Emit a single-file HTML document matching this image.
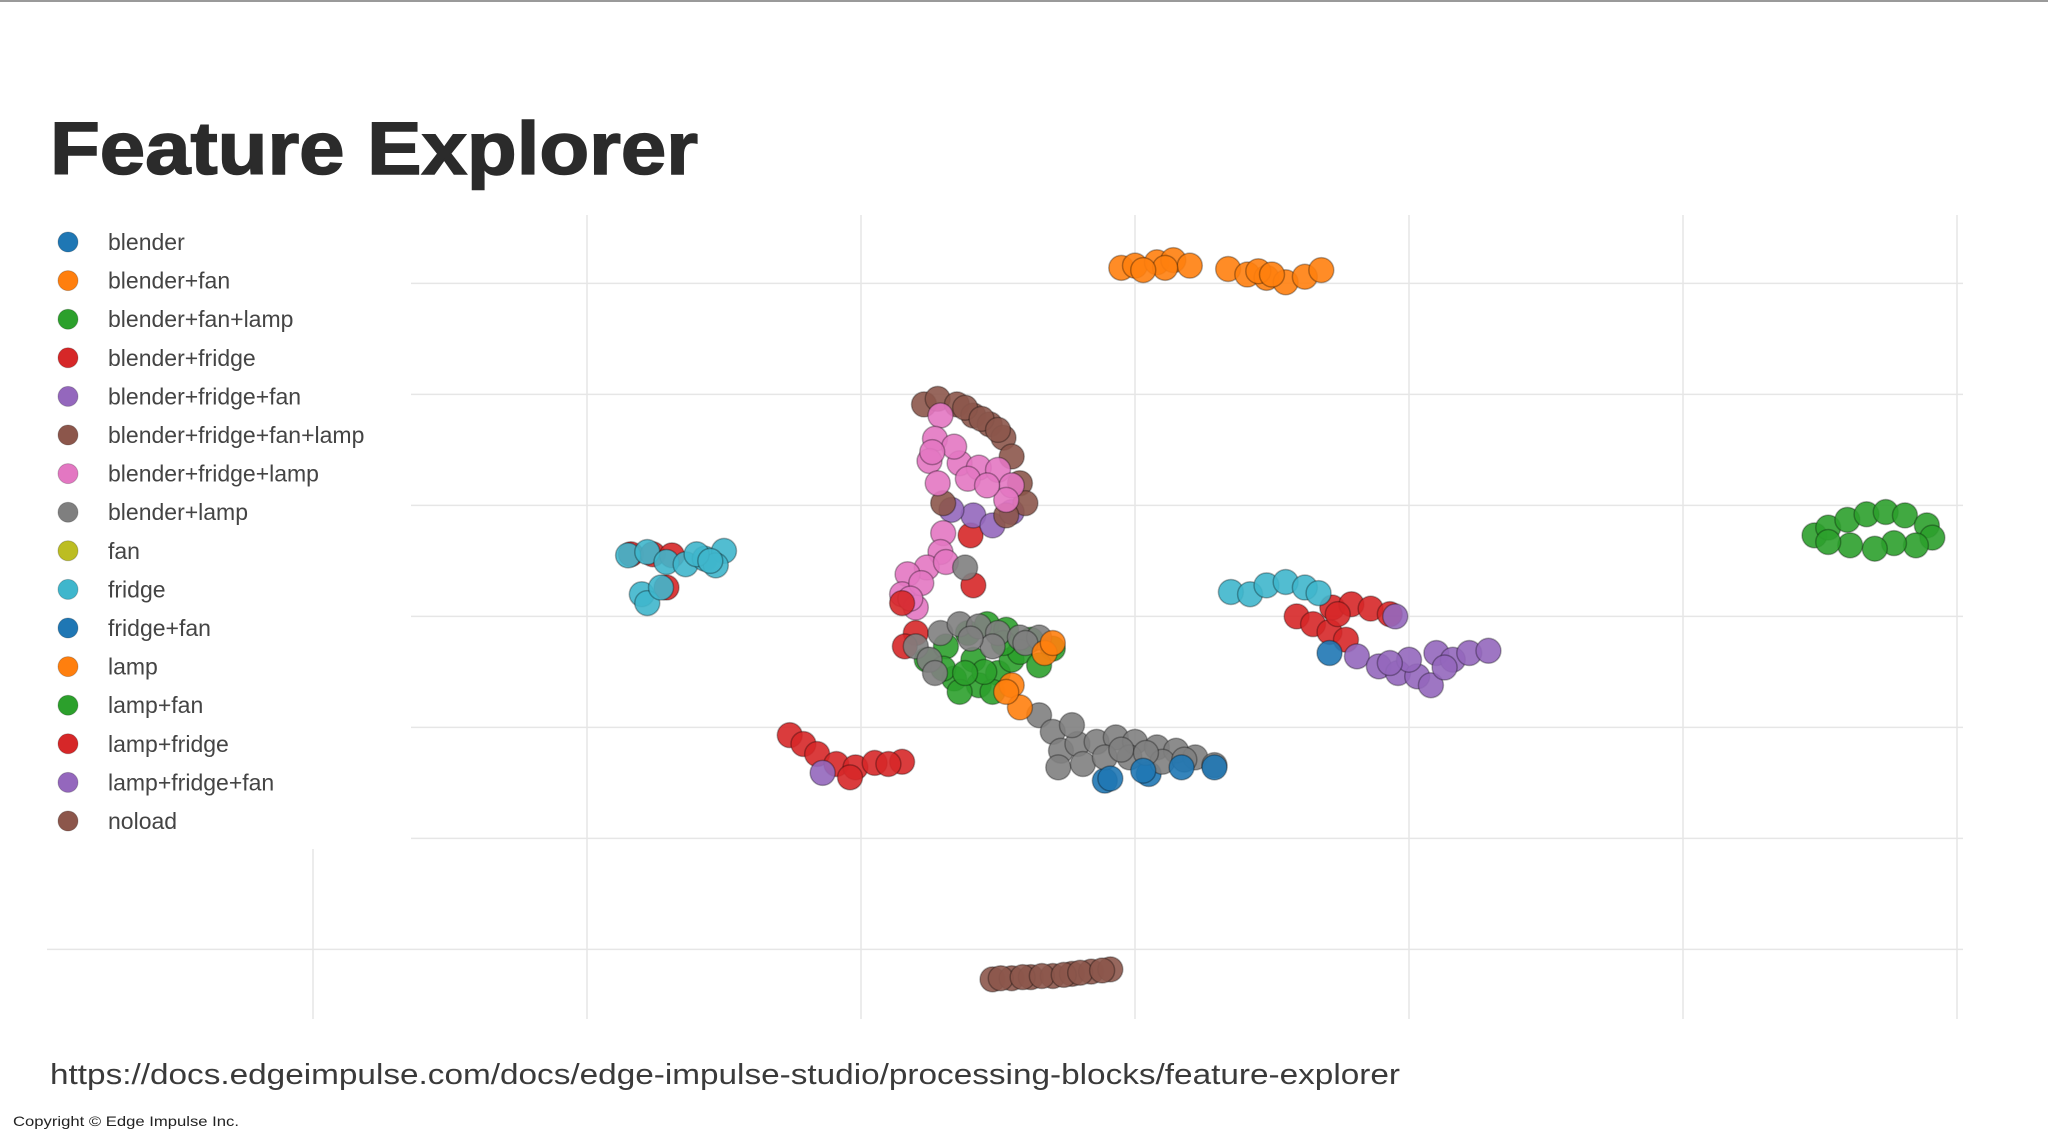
<!DOCTYPE html>
<html>
<head>
<meta charset="utf-8">
<style>
html,body{margin:0;padding:0;background:#fff;}
svg{display:block;}
text{font-family:"Liberation Sans",sans-serif;}
</style>
</head>
<body>
<svg id="chart" width="2048" height="1145" viewBox="0 0 2048 1145" xmlns="http://www.w3.org/2000/svg">
  <rect x="0" y="0" width="2048" height="1145" fill="#ffffff"/>
  <rect x="0" y="0" width="2048" height="2" fill="#9a9a9a"/>
  <text x="50" y="174" font-size="74" font-weight="bold" fill="#2b2b2b" textLength="648" lengthAdjust="spacingAndGlyphs" stroke="#2b2b2b" stroke-width="1.5">Feature Explorer</text>
  <g id="grid"></g>
  <rect x="40" y="210" width="371" height="639" fill="#ffffff"/>
  <g id="points"></g>
  <g id="legend"></g>
  <text x="50" y="1084" font-size="29" fill="#3a3a3a" textLength="1350" lengthAdjust="spacingAndGlyphs">https://docs.edgeimpulse.com/docs/edge-impulse-studio/processing-blocks/feature-explorer</text>
  <text x="13" y="1126" font-size="14" fill="#222" textLength="226" lengthAdjust="spacingAndGlyphs">Copyright © Edge Impulse Inc.</text>
</svg>
<script>
const seriesNames = ["blender","blender+fan","blender+fan+lamp","blender+fridge","blender+fridge+fan","blender+fridge+fan+lamp","blender+fridge+lamp","blender+lamp","fan","fridge","fridge+fan","lamp","lamp+fan","lamp+fridge","lamp+fridge+fan","noload"];
const seriesColors = ["#1f77b4","#ff7f0e","#2ca02c","#d62728","#9467bd","#8c564b","#e377c2","#7f7f7f","#bcbd22","#3fb6cc","#1f77b4","#ff7f0e","#2ca02c","#d62728","#9467bd","#8c564b"];
const xTicks = [-20,-10,0,10,20,30,40];
const yTicks = [-20,-10,0,10,20,30,40];

const blenderX = [8.9,10.5];
const blenderY = [-4.8,-4.2];
const blenderFanX = [9.5,10.0,10.8,11.4,12.0,11.1,13.4,14.1,14.8,15.5,16.2,16.8,14.5,10.3,15.0];
const blenderFanY = [41.4,41.6,41.9,42.1,41.6,41.4,41.3,40.8,40.5,40.1,40.6,41.2,41.1,41.2,40.8];
const blenderFanLampX = [2.4,3.1,3.9,4.6,5.3,6.2,7.0,3.4,4.3,5.0,4.1,3.6,5.5,4.8,3.0,4.5,5.8,6.5,3.8,5.2];
const blenderFanLampY = [6.1,7.3,8.5,9.3,8.8,7.9,7.1,4.4,3.8,4.9,6.1,3.2,6.1,3.2,5.3,5.0,6.8,5.6,4.9,7.6];
const blenderFridgeX = [-8.4,-7.6,-6.9,-7.1,15.9,16.5,17.1,17.7,17.2,17.9,18.6,17.4,4.1,4.0,2.0,1.6];
const blenderFridgeY = [15.6,15.6,15.5,12.6,10.0,9.3,8.6,7.9,10.8,11.1,10.7,10.2,12.8,17.3,8.5,7.3];
const blenderFridgeFanX = [18.1,18.9,19.6,20.3,20.8,21.0,21.6,22.2,22.9,20.0,4.1,4.8,5.5,3.3,19.3,21.3];
const blenderFridgeFanY = [6.4,5.5,4.9,4.6,3.8,6.7,6.1,6.7,6.9,6.1,19.1,18.2,19.4,19.6,5.8,5.4];
const bffLampX = [2.3,2.8,3.5,4.1,4.7,5.2,5.5,5.8,6.0,5.3,3.0,3.8,4.4,5.0];
const bffLampY = [29.1,29.6,29.1,28.1,27.3,26.1,24.4,22.0,20.2,19.1,20.2,28.8,27.8,26.8];
const blenderFridgeLampX = [2.9,2.7,2.5,2.8,3.6,4.3,5.0,5.5,5.3,3.0,2.9,2.4,1.7,1.5,2.0,3.1,3.4,2.6,3.9,4.6,2.2,1.8];
const blenderFridgeLampY = [28.1,26.0,24.0,22.0,23.8,23.4,23.2,21.8,20.5,17.5,15.8,14.4,13.8,12.0,10.8,14.9,25.3,24.8,22.4,21.8,13.0,11.6];
const blenderLampX = [6.5,7.0,7.3,7.2,7.9,8.6,9.3,10.0,10.8,11.5,12.2,12.9,8.1,8.9,9.8,11.0,7.7,2.0,2.5,2.9,3.6,4.3,5.0,5.8,6.5,2.7,3.8,4.8,9.5,10.4,11.8,6.0,4.0];
const blenderLampY = [1.1,-0.4,-2.1,-3.6,-1.5,-1.3,-0.9,-1.3,-1.8,-2.1,-2.7,-3.4,-3.3,-2.7,-2.7,-3.1,0.2,7.3,6.1,8.5,9.3,9.1,8.5,8.1,8.1,4.9,14.4,7.3,-2.0,-2.3,-2.9,7.6,8.0];
const fanX = [];
const fanY = [];
const fridgeX = [-8.5,-7.8,-7.1,-6.4,-5.7,-5.0,-5.3,-8.0,-7.8,-7.3,13.5,14.2,14.8,15.5,16.2,16.7,-6.0,-5.5];
const fridgeY = [15.5,15.8,14.9,14.7,15.2,15.9,14.6,12.0,11.2,12.6,12.2,12.0,12.8,13.1,12.6,12.1,15.6,15.0];
const fridgeFanX = [17.1,9.1,10.3,11.7,12.9];
const fridgeFanY = [6.7,-4.6,-3.9,-3.6,-3.6];
const lampX = [6.7,5.5,5.8,5.3,7.0];
const lampY = [6.7,3.8,1.8,3.2,7.6];
const lampFanX = [34.8,35.3,36.0,36.7,37.4,38.1,38.9,39.1,38.5,37.7,37.0,36.1,35.3];
const lampFanY = [17.3,18.0,18.7,19.2,19.4,19.1,18.2,17.1,16.4,16.6,16.1,16.4,16.7];
const lampFridgeX = [-2.6,-2.1,-1.6,-0.9,-0.2,0.5,1.5,-0.4,19.3,1.5,1.0];
const lampFridgeY = [-0.7,-1.5,-2.4,-3.3,-3.6,-3.2,-3.1,-4.5,10.2,11.2,-3.3];
const lampFridgeFanX = [-1.4,19.5];
const lampFridgeFanY = [-4.1,10.0];
const noloadX = [4.8,5.5,6.2,7.0,7.7,8.4,9.1,5.1,5.9,6.6,7.4,8.0,8.8];
const noloadY = [-22.7,-22.6,-22.5,-22.4,-22.2,-22.0,-21.8,-22.6,-22.5,-22.4,-22.3,-22.1,-21.9];

const seriesX = [blenderX,blenderFanX,blenderFanLampX,blenderFridgeX,blenderFridgeFanX,bffLampX,blenderFridgeLampX,blenderLampX,fanX,fridgeX,fridgeFanX,lampX,lampFanX,lampFridgeX,lampFridgeFanX,noloadX];
const seriesY = [blenderY,blenderFanY,blenderFanLampY,blenderFridgeY,blenderFridgeFanY,bffLampY,blenderFridgeLampY,blenderLampY,fanY,fridgeY,fridgeFanY,lampY,lampFanY,lampFridgeY,lampFridgeFanY,noloadY];

const NS = "http://www.w3.org/2000/svg";
function xScale(v){ return 861 + v * 27.4; }
function yScale(v){ return 727.4 - v * 11.1; }

const grid = document.getElementById('grid');
xTicks.forEach(function(t){
  const l = document.createElementNS(NS,'line');
  l.setAttribute('x1', xScale(t)); l.setAttribute('x2', xScale(t));
  l.setAttribute('y1', 215); l.setAttribute('y2', 1019);
  l.setAttribute('stroke', '#e6e6e6'); l.setAttribute('stroke-width', 1.5);
  
  
  grid.appendChild(l);
});
yTicks.forEach(function(t){
  const l = document.createElementNS(NS,'line');
  l.setAttribute('x1', 47); l.setAttribute('x2', 1963);
  l.setAttribute('y1', yScale(t)); l.setAttribute('y2', yScale(t));
  l.setAttribute('stroke', '#e6e6e6'); l.setAttribute('stroke-width', 1.5);
  
  
  grid.appendChild(l);
});

const pts = document.getElementById('points');
seriesNames.forEach(function(name, i){
  const g = document.createElementNS(NS,'g');
  
  
  const xs = seriesX[i], ys = seriesY[i];
  for (let k = 0; k < xs.length; k++){
    const c = document.createElementNS(NS,'circle');
    c.setAttribute('cx', xScale(xs[k]));
    c.setAttribute('cy', yScale(ys[k]));
    c.setAttribute('r', 12.5);
    c.setAttribute('fill', seriesColors[i]);
    c.setAttribute('fill-opacity', 0.9);
    c.setAttribute('stroke', 'rgba(0,0,0,0.3)');
    c.setAttribute('stroke-width', 1.5);
    
    
    g.appendChild(c);
  }
  pts.appendChild(g);
});

const legend = document.getElementById('legend');
seriesNames.forEach(function(name, i){
  const g = document.createElementNS(NS,'g');
  
  
  const y = 242 + i * 38.6;
  const c = document.createElementNS(NS,'circle');
  c.setAttribute('cx', 68); c.setAttribute('cy', y); c.setAttribute('r', 10);
  c.setAttribute('fill', seriesColors[i]);
  c.setAttribute('stroke', 'rgba(0,0,0,0.2)'); c.setAttribute('stroke-width', 1);
  
  
  g.appendChild(c);
  const t = document.createElementNS(NS,'text');
  t.setAttribute('x', 108); t.setAttribute('y', y + 8);
  t.setAttribute('font-size', 23); t.setAttribute('fill', '#444');
  t.textContent = name;
  
  
  g.appendChild(t);
  legend.appendChild(g);
});
</script>
</body>
</html>
